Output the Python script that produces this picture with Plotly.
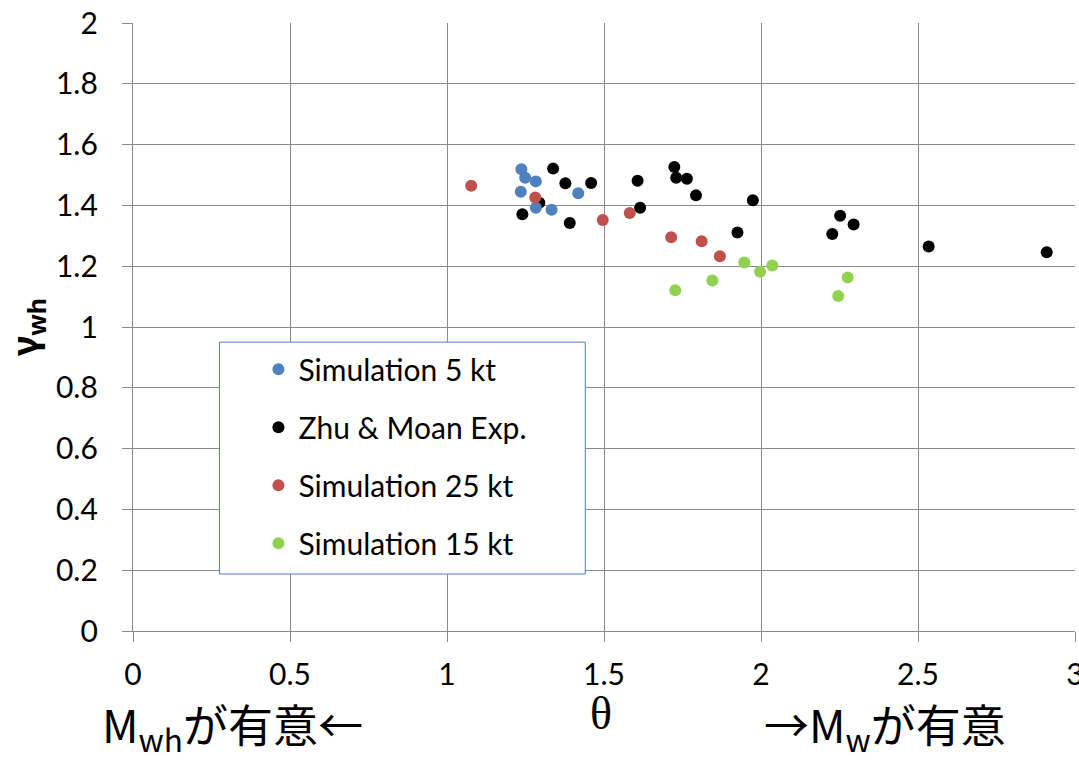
import plotly.graph_objects as go

# Series data: theta (x) and gamma_wh (y)
sim5_theta = [1.237, 1.249, 1.283, 1.235, 1.283, 1.333, 1.418]
sim5_gamma = [1.519, 1.491, 1.479, 1.445, 1.392, 1.386, 1.440]

zhu_theta = [1.294, 1.240, 1.338, 1.377, 1.459, 1.391, 1.607, 1.615, 1.724, 1.730,
             1.764, 1.793, 1.974, 1.925, 2.252, 2.295, 2.227, 2.534, 2.910]
zhu_gamma = [1.409, 1.371, 1.521, 1.473, 1.474, 1.342, 1.481, 1.392, 1.526, 1.491,
             1.488, 1.433, 1.417, 1.311, 1.366, 1.337, 1.306, 1.265, 1.246]

sim25_theta = [1.077, 1.281, 1.496, 1.582, 1.714, 1.811, 1.869]
sim25_gamma = [1.465, 1.426, 1.352, 1.375, 1.295, 1.282, 1.233]

sim15_theta = [1.727, 1.845, 1.947, 1.997, 2.036, 2.276, 2.246]
sim15_gamma = [1.121, 1.153, 1.212, 1.182, 1.202, 1.163, 1.102]

x_tickvals = [0, 0.5, 1, 1.5, 2, 2.5, 3]
x_ticktext = ["0", "0.5", "1", "1.5", "2", "2.5", "3"]
y_tickvals = [0, 0.2, 0.4, 0.6, 0.8, 1, 1.2, 1.4, 1.6, 1.8, 2]
y_ticktext = ["0", "0.2", "0.4", "0.6", "0.8", "1", "1.2", "1.4", "1.6", "1.8", "2"]

GRID = "#8a8a8a"
TICK_FONT = dict(family="Lato, 'Open Sans', sans-serif", size=30, color="#000000")
CJK_FONT = dict(family="'Noto Sans CJK JP', sans-serif", size=45, color="#000000")

fig = go.Figure()

series = [
    ("Zhu & Moan Exp.", zhu_theta, zhu_gamma, "#000000", 2),
    ("Simulation 5 kt", sim5_theta, sim5_gamma, "#4f81bd", 1),
    ("Simulation 25 kt", sim25_theta, sim25_gamma, "#c0504d", 3),
    ("Simulation 15 kt", sim15_theta, sim15_gamma, "#92d050", 4),
]
for name, xs, ys, color, rank in series:
    fig.add_trace(go.Scatter(
        x=xs, y=ys, mode="markers", name=name,
        marker=dict(color=color, size=12, line=dict(width=0)),
        legendgroup=name, legendrank=rank,
    ))

W, H = 1079, 760
L, R, T, B = 132.5, 4, 22.7, 129
pw, ph = W - L - R, H - T - B


def px_x(px):
    return (px - L) / pw


def px_y(py):
    return (H - B - py) / ph


# Legend frame
fig.add_shape(type="rect", xref="paper", yref="paper",
              x0=px_x(219), x1=px_x(585), y0=px_y(574), y1=px_y(342),
              line=dict(color="#4f81bd", width=1), fillcolor="white", layer="above")

# Bottom captions
fig.add_annotation(text="M<sub>wh</sub>が有意←", xref="paper", yref="paper",
                   x=px_x(99), y=px_y(726), xanchor="left", yanchor="middle",
                   showarrow=False, font=CJK_FONT)
fig.add_annotation(text="→M<sub>w</sub>が有意", xref="paper", yref="paper",
                   x=px_x(762), y=px_y(726), xanchor="left", yanchor="middle",
                   showarrow=False, font=CJK_FONT)
fig.add_annotation(text="θ", xref="paper", yref="paper",
                   x=px_x(601), y=px_y(714), xanchor="center", yanchor="middle",
                   showarrow=False,
                   font=dict(family="'Liberation Serif', serif", size=46, color="#000"))

fig.update_layout(
    width=W, height=H,
    margin=dict(l=L, r=R, t=T, b=B, autoexpand=False),
    paper_bgcolor="white", plot_bgcolor="white",
    showlegend=True,
    legend=dict(x=px_x(258), y=px_y(343), xanchor="left", yanchor="top",
                bgcolor="rgba(0,0,0,0)", borderwidth=0,
                font=TICK_FONT, tracegroupgap=16, itemsizing="trace"),
    xaxis=dict(range=[0, 3], tickvals=x_tickvals, ticktext=x_ticktext,
               showgrid=True, gridcolor=GRID, gridwidth=1.3,
               zeroline=False, showline=True, linecolor=GRID, linewidth=1.3,
               ticks="outside", ticklen=10, tickcolor=GRID, tickwidth=1.3,
               tickfont=TICK_FONT, ticklabelstandoff=7, ticklabeloverflow="allow",
               automargin=False, fixedrange=True),
    yaxis=dict(range=[0, 2], tickvals=y_tickvals, ticktext=y_ticktext,
               showgrid=True, gridcolor=GRID, gridwidth=1.3,
               zeroline=False, showline=True, linecolor=GRID, linewidth=1.3,
               ticks="outside", ticklen=10, tickcolor=GRID, tickwidth=1.3,
               tickfont=TICK_FONT, ticklabelstandoff=18,
               title=dict(text="<b>γ<sub>wh</sub></b>",
                          font=dict(family="'Noto Sans', sans-serif", size=36, color="#000"),
                          standoff=8),
               automargin=False, fixedrange=True),
)

fig.write_html("out.html")
